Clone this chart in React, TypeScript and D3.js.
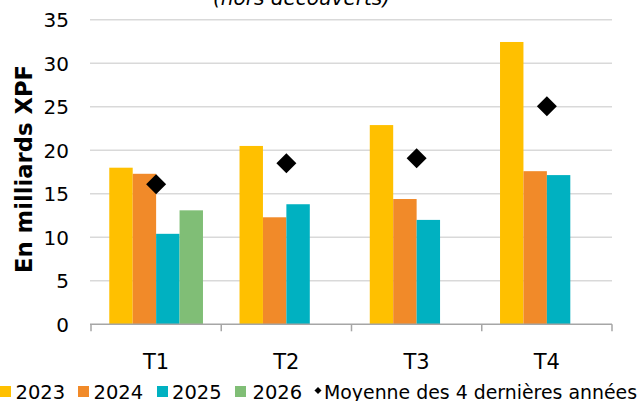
import React from "react";
import * as d3 from "d3";

const categories = ["T1", "T2", "T3", "T4"];
const seriesNames = ["2023", "2024", "2025", "2026"];
const values2023 = [18.0, 20.5, 22.9, 32.45];
const values2024 = [17.3, 12.3, 14.4, 17.6];
const values2025 = [10.4, 13.8, 12.0, 17.15];
const values2026 = [13.1, 0, 0, 0];
const average = [16.1, 18.5, 19.1, 25.05];
const yTicks = [0, 5, 10, 15, 20, 25, 30, 35];
const colors = ["#FFC000", "#F18A29", "#00B1C1", "#80BE76"];
const legendLabel = "Moyenne des 4 dernières années";

const W = 642;
const H = 401;
const left = 91;
const right = 612;
const top = 19.8;
const bottom = 324.3;
const font = "'DejaVu Sans', Verdana, sans-serif";

export default function App() {
  const allSeries = [values2023, values2024, values2025, values2026];
  const x = d3.scaleBand<string>().domain(categories).range([left, right]).paddingInner(0).paddingOuter(0);
  const inner = d3
    .scaleBand<string>()
    .domain(seriesNames)
    .range([0, x.bandwidth()])
    .paddingInner(0)
    .paddingOuter(0.78);
  const y = d3.scaleLinear().domain([0, 35]).range([bottom, top]);

  const diamond = d3.symbol().type(d3.symbolSquare).size(200)();
  const legendDiamond = d3.symbol().type(d3.symbolSquare).size(25)();

  const legendItems = [
    { sx: 0, tx: 15.5, label: "2023", c: colors[0] },
    { sx: 78, tx: 93.5, label: "2024", c: colors[1] },
    { sx: 157, tx: 172, label: "2025", c: colors[2] },
    { sx: 235, tx: 252.5, label: "2026", c: colors[3] },
  ];

  return (
    <svg
      width={W}
      height={H}
      style={{ position: "absolute", left: 0, top: 0, background: "#fff" }}
      fontFamily={font}
    >
      <text x={301.5} y={5} textAnchor="middle" fontSize={20} fontStyle="italic" fill="#000" textLength={177} lengthAdjust="spacingAndGlyphs">
        (hors découverts)
      </text>
      {yTicks.map((t) => (
        <g key={t}>
          {t > 0 && (
            <line x1={left - 1} x2={right} y1={y(t)} y2={y(t)} stroke="#D9D9D9" strokeWidth={1.5} />
          )}
          <text x={69} y={y(t)} dy="0.36em" textAnchor="end" fontSize={20} fill="#000">
            {t}
          </text>
        </g>
      ))}
      <text
        transform={`translate(32,169) rotate(-90)`}
        textAnchor="middle"
        fontSize={23}
        fontWeight="bold"
        fill="#000"
        textLength={208}
        lengthAdjust="spacingAndGlyphs"
      >
        En milliards XPF
      </text>
      {categories.map((cat, ci) => (
        <g key={cat}>
          {allSeries.map((s, si) =>
            s[ci] > 0 ? (
              <rect
                key={si}
                x={(x(cat) as number) + (inner(seriesNames[si]) as number)}
                y={y(s[ci])}
                width={inner.bandwidth()}
                height={bottom - y(s[ci])}
                fill={colors[si]}
              />
            ) : null
          )}
        </g>
      ))}
      <line x1={left - 1} x2={right} y1={bottom} y2={bottom} stroke="#A6A6A6" strokeWidth={1.5} />
      {[...categories.map((c) => x(c) as number), right].map((tx, i) => (
        <line key={i} x1={tx} x2={tx} y1={bottom} y2={bottom + 7} stroke="#A6A6A6" strokeWidth={1.5} />
      ))}
      {categories.map((cat) => (
        <text
          key={cat}
          x={(x(cat) as number) + x.bandwidth() / 2}
          y={369}
          textAnchor="middle"
          fontSize={21}
          fill="#000"
        >
          {cat}
        </text>
      ))}
      {categories.map((cat, ci) => (
        <path
          key={cat}
          d={diamond as string}
          transform={`translate(${(x(cat) as number) + x.bandwidth() / 2},${y(average[ci])}) rotate(45)`}
          fill="#000"
        />
      ))}
      <g>
        {legendItems.map((it) => (
          <g key={it.label}>
            <rect x={it.sx} y={386} width={11} height={11} fill={it.c} />
            <text x={it.tx} y={399} fontSize={19.5} fill="#000">
              {it.label}
            </text>
          </g>
        ))}
        <path d={legendDiamond as string} transform="translate(318,390.5) rotate(45)" fill="#000" />
        <text x={324} y={399} fontSize={19} fill="#000" textLength={313} lengthAdjust="spacingAndGlyphs">
          {legendLabel}
        </text>
      </g>
    </svg>
  );
}
